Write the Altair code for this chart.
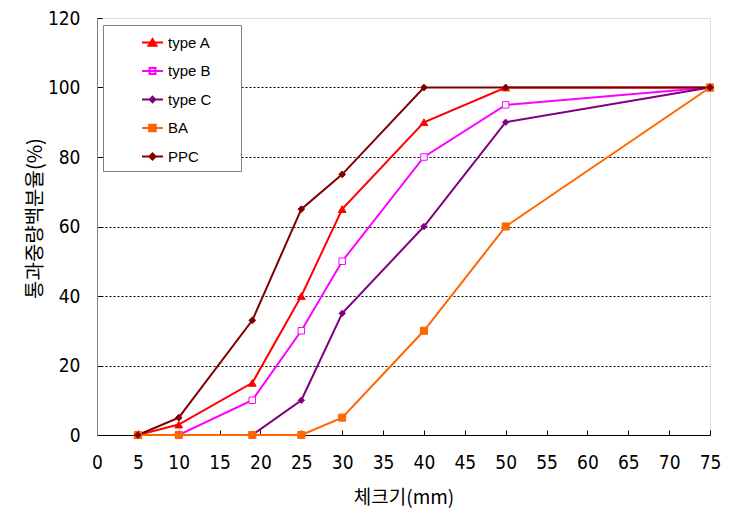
import altair as alt
import pandas as pd

# ---- data ----
sieve = [5, 10, 19, 25, 30, 40, 50, 75]
type_a = [0, 3, 15, 40, 65, 90, 100, 100]
type_b = [0, 0, 10, 30, 50, 80, 95, 100]
type_c = [None, None, 0, 10, 35, 60, 90, 100]
ba = [0, 0, 0, 0, 5, 30, 60, 100]
ppc = [0, 5, 33, 65, 75, 100, 100, 100]

series_names = ["type A", "type B", "type C", "BA", "PPC"]
series_values = [type_a, type_b, type_c, ba, ppc]
x_ticks = list(range(0, 80, 5))
y_ticks = list(range(0, 140, 20))

# ---- styles ----
stroke_colors = ["#FF0000", "#FF00FF", "#800080", "#FF6600", "#800000"]
fill_colors = ["#FF0000", "#FFFFFF", "#800080", "#FF6600", "#800000"]
marker_shapes = ["triangle-up", "square", "diamond", "square", "diamond"]
marker_sizes = [60, 42, 40, 50, 45]
legend_paths = [
    "M-1,0H1M0,-0.32L0.38,0.3H-0.38Z",
    "M-1,0H1M-0.28,-0.28H0.28V0.28H-0.28Z",
    "M-1,0H1M0,-0.26L0.26,0L0,0.26L-0.26,0Z",
    "M-1,0H1M-0.32,-0.32H0.32V0.32H-0.32Z",
    "M-1,0H1M0,-0.3L0.3,0L0,0.3L-0.3,0Z",
]

rows = []
for name, vals in zip(series_names, series_values):
    for s, v in zip(sieve, vals):
        if v is not None:
            rows.append({"sieve": s, "pct": v, "series": name})
df = pd.DataFrame(rows)

tick_font = "Liberation Sans Narrow, DejaVu Sans Condensed, sans-serif"
kr_font = "Noto Sans CJK KR"

x_enc = alt.X(
    "sieve:Q",
    scale=alt.Scale(domain=[0, 75], nice=False, zero=True),
    axis=alt.Axis(
        values=x_ticks, title="체크기(mm)", grid=False,
        domainColor="#000000", tickColor="#000000",
        tickSize=alt.ExprRef("-5"),
        labelFont=tick_font, labelFontSize=19, labelPadding=23,
        labelColor="#000000", labelFlush=False,
        titleFont=kr_font, titleFontSize=19, titleFontWeight="normal",
        titleColor="#000000", titleX=306.5, titleY=62,
        titleAlign="center", titleBaseline="middle",
    ),
)
y_enc = alt.Y(
    "pct:Q",
    scale=alt.Scale(domain=[0, 120], nice=False),
    axis=alt.Axis(
        values=y_ticks, title="통과중량백분율(%)",
        domainColor="#808080", tickColor="#000000",
        tickSize=alt.ExprRef("-5"),
        grid=True, gridColor="#000000", gridDash=[2, 2], gridWidth=1,
        gridOpacity={"condition": {"test": "datum.value == 0 || datum.value == 120", "value": 0}, "value": 1},
        labelFont=tick_font, labelFontSize=19, labelPadding=22,
        labelColor="#000000",
        titleFont=kr_font, titleFontSize=20, titleFontWeight="normal",
        titleColor="#000000", titleX=-62, titleY=200, titleAngle=-90,
        titleAlign="center", titleBaseline="middle",
    ),
)

stroke_scale = alt.Scale(domain=series_names, range=stroke_colors)
fill_scale = alt.Scale(domain=series_names, range=fill_colors)
shape_scale = alt.Scale(domain=series_names, range=legend_paths)

legend_cfg = dict(
    title="\u00a0", titleOrient="right", titlePadding=24,
    orient="none", legendX=6, legendY=7,
    padding=6, rowPadding=8.5,
    symbolSize=441, symbolStrokeWidth=2, symbolOpacity=1,
    symbolOffset=32, labelOffset=4,
    labelFont="Liberation Sans", labelFontSize=15, labelColor="#000000",
    fillColor="#FFFFFF", strokeColor="#808080",
)

base = alt.Chart(df)

line_layers = []
marker_layers = []
for name, shp, fc, sc, sz in zip(series_names, marker_shapes, fill_colors, stroke_colors, marker_sizes):
    sub = base.transform_filter(alt.datum.series == name)
    line_layers.append(
        sub.mark_line(strokeWidth=2, stroke=sc).encode(x=x_enc, y=y_enc)
    )
    marker_layers.append(
        sub.mark_point(
            shape=shp, filled=True, fill=fc, stroke=sc, strokeWidth=1,
            size=sz, opacity=1,
        ).encode(x=x_enc, y=y_enc)
    )

legend_layer = base.transform_filter("false").mark_point(filled=True, opacity=1, size=441).encode(
    x=x_enc, y=y_enc,
    fill=alt.Fill("series:N", scale=fill_scale, legend=alt.Legend(**legend_cfg)),
    stroke=alt.Stroke("series:N", scale=stroke_scale, legend=alt.Legend(**legend_cfg)),
    shape=alt.Shape("series:N", scale=shape_scale, legend=alt.Legend(**legend_cfg)),
)

chart = alt.layer(*line_layers, *marker_layers, legend_layer).properties(
    width=613, height=417,
    padding={"left": 89, "top": 10, "right": 16, "bottom": 81},
    autosize=alt.AutoSizeParams(type="none"),
).configure_view(
    stroke="#808080", strokeWidth=1,
).configure(background="#FFFFFF")

chart.save("out.html", embed_options={"renderer": "svg", "actions": False})
